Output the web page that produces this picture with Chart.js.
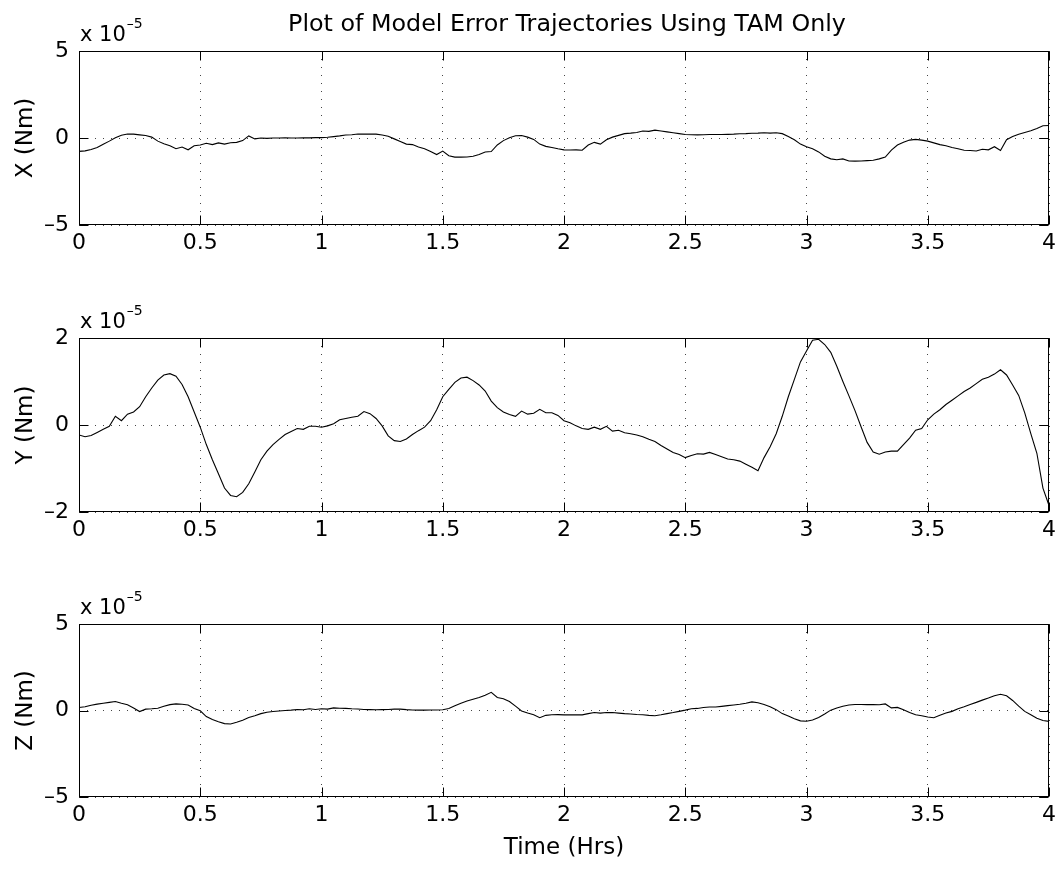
<!DOCTYPE html>
<html>
<head>
<meta charset="utf-8">
<title>Plot of Model Error Trajectories Using TAM Only</title>
<script src="https://cdn.jsdelivr.net/npm/chart.js@4.4.0/dist/chart.umd.min.js"></script>
<style>
  body { margin:0; background:#fff; width:1061px; height:869px; overflow:hidden; position:relative; }
  canvas { position:absolute; left:0; }
</style>
</head>
<body>
<canvas id="chartX" width="1061" height="285" style="top:0px"></canvas>
<canvas id="chartY" width="1061" height="285" style="top:287px"></canvas>
<canvas id="chartZ" width="1061" height="296" style="top:573px"></canvas>
<script>
// Model error trajectories, values in units of 1e-5 Nm (axis shows "x 10^-5")
const TIME = [
  0,0.025,0.05,0.075,0.1,0.125,0.15,0.175,0.2,0.225,0.25,0.275,0.3,0.325,0.35,0.375,0.4,0.425,0.45,0.475,
  0.5,0.525,0.55,0.575,0.6,0.625,0.65,0.675,0.7,0.725,0.75,0.775,0.8,0.825,0.85,0.875,0.9,0.925,0.95,0.975,
  1,1.025,1.05,1.075,1.1,1.125,1.15,1.175,1.2,1.225,1.25,1.275,1.3,1.325,1.35,1.375,1.4,1.425,1.45,1.475,
  1.5,1.525,1.55,1.575,1.6,1.625,1.65,1.675,1.7,1.725,1.75,1.775,1.8,1.825,1.85,1.875,1.9,1.925,1.95,1.975,
  2,2.025,2.05,2.075,2.1,2.125,2.15,2.175,2.2,2.225,2.25,2.275,2.3,2.325,2.35,2.375,2.4,2.425,2.45,2.475,
  2.5,2.525,2.55,2.575,2.6,2.625,2.65,2.675,2.7,2.725,2.75,2.775,2.8,2.825,2.85,2.875,2.9,2.925,2.95,2.975,
  3,3.025,3.05,3.075,3.1,3.125,3.15,3.175,3.2,3.225,3.25,3.275,3.3,3.325,3.35,3.375,3.4,3.425,3.45,3.475,
  3.5,3.525,3.55,3.575,3.6,3.625,3.65,3.675,3.7,3.725,3.75,3.775,3.8,3.825,3.85,3.875,3.9,3.925,3.95,3.975,
  4
];

const X_ERR = [
  -0.77,-0.74,-0.66,-0.55,-0.36,-0.18,0.02,0.16,0.23,0.22,0.18,0.14,0.05,-0.18,-0.33,-0.45,-0.62,-0.52,-0.68,-0.45,
  -0.40,-0.30,-0.38,-0.28,-0.35,-0.27,-0.25,-0.15,0.12,-0.05,0.00,-0.02,0.00,0.00,0.01,0.00,0.00,0.01,0.01,0.02,
  0.02,0.04,0.08,0.12,0.17,0.19,0.23,0.22,0.23,0.22,0.17,0.10,-0.05,-0.20,-0.35,-0.38,-0.52,-0.62,-0.78,-0.95,
  -0.75,-1.02,-1.10,-1.10,-1.09,-1.05,-0.95,-0.80,-0.78,-0.40,-0.15,0.02,0.13,0.14,0.05,-0.08,-0.35,-0.48,-0.55,-0.62,
  -0.68,-0.69,-0.68,-0.70,-0.40,-0.25,-0.35,-0.10,0.05,0.15,0.25,0.28,0.32,0.40,0.38,0.45,0.40,0.35,0.30,0.25,
  0.20,0.19,0.18,0.19,0.20,0.20,0.20,0.21,0.22,0.24,0.25,0.27,0.28,0.30,0.28,0.30,0.25,0.08,-0.10,-0.35,
  -0.50,-0.62,-0.80,-1.05,-1.20,-1.25,-1.20,-1.32,-1.33,-1.32,-1.30,-1.28,-1.20,-1.10,-0.70,-0.40,-0.25,-0.12,-0.08,-0.12,
  -0.18,-0.28,-0.38,-0.45,-0.55,-0.62,-0.70,-0.72,-0.75,-0.65,-0.68,-0.50,-0.72,-0.10,0.08,0.22,0.32,0.42,0.55,0.70,
  0.72
];

const Y_ERR = [
  -0.23,-0.27,-0.24,-0.17,-0.10,-0.03,0.20,0.10,0.25,0.30,0.42,0.65,0.85,1.03,1.15,1.18,1.12,0.93,0.65,0.30,
  -0.05,-0.45,-0.80,-1.12,-1.45,-1.62,-1.65,-1.55,-1.35,-1.08,-0.80,-0.60,-0.45,-0.33,-0.22,-0.15,-0.08,-0.10,-0.03,-0.03,
  -0.05,-0.02,0.03,0.12,0.15,0.18,0.20,0.31,0.26,0.15,-0.02,-0.25,-0.36,-0.38,-0.32,-0.22,-0.13,-0.05,0.10,0.35,
  0.65,0.82,0.98,1.08,1.10,1.02,0.92,0.78,0.55,0.40,0.30,0.24,0.20,0.32,0.25,0.27,0.36,0.28,0.28,0.22,
  0.10,0.05,-0.02,-0.08,-0.10,-0.05,-0.10,-0.03,-0.14,-0.12,-0.18,-0.20,-0.23,-0.27,-0.33,-0.38,-0.47,-0.55,-0.63,-0.68,
  -0.75,-0.70,-0.66,-0.67,-0.63,-0.68,-0.73,-0.78,-0.80,-0.83,-0.90,-0.97,-1.05,-0.75,-0.50,-0.20,0.20,0.65,1.05,1.45,
  1.70,1.95,1.97,1.85,1.67,1.35,1.00,0.67,0.33,-0.04,-0.40,-0.62,-0.67,-0.62,-0.60,-0.60,-0.45,-0.30,-0.12,-0.08,
  0.12,0.25,0.35,0.47,0.57,0.67,0.77,0.85,0.95,1.05,1.10,1.17,1.27,1.15,0.92,0.68,0.28,-0.20,-0.65,-1.45,
  -1.85
];

const Z_ERR = [
  0.17,0.22,0.30,0.37,0.42,0.47,0.52,0.42,0.33,0.15,-0.06,0.08,0.10,0.13,0.25,0.34,0.38,0.36,0.32,0.12,
  -0.02,-0.35,-0.52,-0.65,-0.76,-0.78,-0.68,-0.56,-0.40,-0.30,-0.18,-0.10,-0.06,-0.03,0.00,0.02,0.06,0.04,0.10,0.06,
  0.10,0.08,0.15,0.13,0.12,0.10,0.09,0.06,0.05,0.04,0.05,0.06,0.08,0.08,0.05,0.03,0.02,0.02,0.03,0.03,
  0.04,0.12,0.28,0.42,0.55,0.65,0.75,0.88,1.05,0.75,0.68,0.52,0.25,-0.03,-0.15,-0.25,-0.42,-0.28,-0.25,-0.24,
  -0.25,-0.25,-0.25,-0.25,-0.18,-0.12,-0.15,-0.12,-0.12,-0.15,-0.18,-0.20,-0.23,-0.25,-0.28,-0.30,-0.25,-0.18,-0.12,-0.05,
  0.02,0.10,0.12,0.17,0.20,0.20,0.24,0.28,0.32,0.36,0.42,0.50,0.45,0.35,0.22,0.05,-0.18,-0.32,-0.48,-0.60,
  -0.62,-0.55,-0.40,-0.20,0.02,0.15,0.25,0.32,0.35,0.35,0.34,0.34,0.33,0.38,0.15,0.18,0.05,-0.12,-0.25,-0.30,
  -0.38,-0.42,-0.28,-0.15,-0.05,0.10,0.22,0.35,0.47,0.60,0.72,0.85,0.94,0.85,0.58,0.25,-0.05,-0.25,-0.45,-0.58,
  -0.63
];

const TITLE = "Plot of Model Error Trajectories Using TAM Only";
const X_TICKS = [0, 0.5, 1, 1.5, 2, 2.5, 3, 3.5, 4];

const FONT = "DejaVu Sans";
const PLOT_LEFT = 79;
const PLOT_RIGHT_PAD = 12;

function fmtTick(v){
  return String(v).replace("-", "\u2013");
}

// MATLAB-like box, inward ticks, exponent label and optional title
const matlabBox = {
  id: "matlabBox",
  afterDraw(chart, args, opts){
    const {ctx, chartArea: a, scales} = chart;
    const tl = 9;
    ctx.save();
    ctx.strokeStyle = "#000";
    ctx.lineWidth = 1;
    ctx.setLineDash([]);
    const L = Math.round(a.left) + 0.5, R = Math.round(a.right) - 0.5;
    const T = Math.round(a.top) + 0.5, B = Math.round(a.bottom) - 0.5;
    ctx.strokeRect(L, T, R - L, B - T);
    ctx.beginPath();
    scales.x.ticks.forEach(t => {
      const px = Math.round(scales.x.getPixelForValue(t.value)) + 0.5;
      ctx.moveTo(px, B); ctx.lineTo(px, B - tl);
      ctx.moveTo(px, T); ctx.lineTo(px, T + tl);
    });
    scales.y.ticks.forEach(t => {
      const py = Math.round(scales.y.getPixelForValue(t.value)) + 0.5;
      ctx.moveTo(L, py); ctx.lineTo(L + tl, py);
      ctx.moveTo(R, py); ctx.lineTo(R - tl, py);
    });
    ctx.stroke();

    ctx.fillStyle = "#000";
    ctx.textBaseline = "alphabetic";
    ctx.textAlign = "left";
    ctx.font = "21px '" + FONT + "'";
    const base = "x 10";
    ctx.fillText(base, a.left + 1, a.top - 10);
    const w = ctx.measureText(base).width;
    ctx.font = "14px '" + FONT + "'";
    ctx.fillText("\u20135", a.left + 1 + w + 1, a.top - 23);

    if (opts.title){
      ctx.font = "23.8px '" + FONT + "'";
      ctx.textAlign = "center";
      ctx.fillText(opts.title, (a.left + a.right) / 2 + 3, 31);
    }
    ctx.restore();
  }
};

function makeChart(id, values, yMin, yMax, yStep, yLabel, opts){
  const points = TIME.map((t, i) => ({x: t, y: values[i]}));
  return new Chart(document.getElementById(id), {
    type: "line",
    data: { datasets: [{ data: points, borderColor: "#000", borderWidth: 1.1, pointRadius: 0, tension: 0, fill: false }] },
    options: {
      responsive: false,
      animation: false,
      events: [],
      layout: { padding: { top: 51, left: 0, right: PLOT_RIGHT_PAD, bottom: 0 } },
      plugins: {
        legend: { display: false },
        tooltip: { enabled: false },
        matlabBox: { title: opts.title || null }
      },
      scales: {
        x: {
          type: "linear", min: 0, max: 4,
          afterBuildTicks(s){ s.ticks = X_TICKS.map(v => ({value: v})); },
          afterFit(s){ s.height = opts.bottomH; },
          ticks: { callback: v => fmtTick(v), color: "#000", font: { family: FONT, size: 22 }, padding: 5, maxRotation: 0, autoSkip: false },
          grid: { color: "#444", lineWidth: 1, drawTicks: false },
          border: { display: false, dash: [1, 7] },
          title: { display: !!opts.xLabel, text: opts.xLabel || "", color: "#000", font: { family: FONT, size: 23 }, padding: { top: 0, bottom: 7 } }
        },
        y: {
          min: yMin, max: yMax,
          afterFit(s){ s.width = PLOT_LEFT; },
          ticks: { stepSize: yStep, callback: v => fmtTick(v), color: "#000", font: { family: FONT, size: 22 }, padding: 10 },
          grid: { color: "#444", lineWidth: 1, drawTicks: false },
          border: { display: false, dash: [1, 7] },
          title: { display: true, text: yLabel, color: "#000", font: { family: FONT, size: 23 }, padding: { top: 12, bottom: 0 } }
        }
      }
    },
    plugins: [matlabBox]
  });
}

makeChart("chartX", X_ERR, -5, 5, 5, "X (Nm)", { bottomH: 60, title: TITLE });
makeChart("chartY", Y_ERR, -2, 2, 2, "Y (Nm)", { bottomH: 60 });
makeChart("chartZ", Z_ERR, -5, 5, 5, "Z (Nm)", { bottomH: 72, xLabel: "Time (Hrs)" });
</script>
</body>
</html>
